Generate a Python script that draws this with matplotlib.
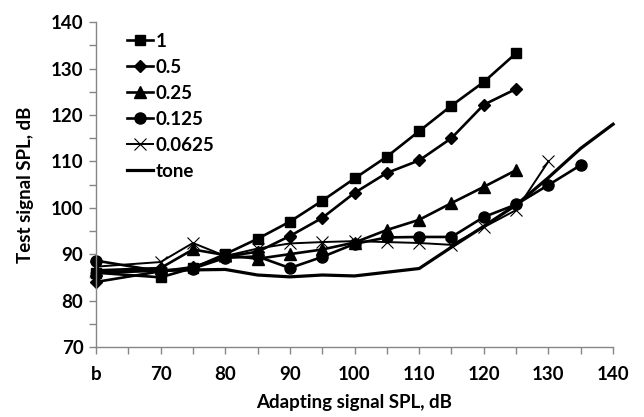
import numpy as np
from matplotlib import pyplot as plt

# adapting signal level; "b" = baseline, drawn at 60
x_all = [60, 70, 75, 80, 85, 90, 95, 100, 105, 110, 115, 120, 125, 130, 135, 140]

sq_1 = [86.0, 85.0, 87.0, 90.0, 93.3, 97.0, 101.5, 106.3, 111.0, 116.5, 122.0, 127.1, 133.3]
dia_05 = [84.0, 86.3, 87.2, 89.5, 90.5, 93.9, 97.8, 103.2, 107.5, 110.2, 115.0, 122.2, 125.6]
tri_025 = [86.5, 87.0, 91.0, 89.8, 89.0, 90.0, 91.0, 92.5, 95.2, 97.4, 101.0, 104.5, 108.1]
circ_0125 = [88.6, 86.3, 86.9, 89.2, 89.5, 87.0, 89.4, 92.2, 93.6, 93.7, 93.7, 98.0, 100.7, 104.9, 109.2]
x_00625 = [87.3, 88.3, 92.4, 89.6, 91.2, 92.3, 92.6, 92.8, 92.6, 92.4, 92.0, 95.8, 99.5, 110.0]
tone = [86.0, 86.5, 86.6, 86.7, 85.5, 85.1, 85.5, 85.3, 86.1, 86.9, 91.5, 96.0, 100.6, 106.5, 112.8, 118.0]

labels = ['1', '0.5', '0.25', '0.125', '0.0625', 'tone']

plt.rcParams['font.family'] = ['Lato', 'DejaVu Sans']
plt.rcParams['font.weight'] = 'bold'

fig = plt.figure(figsize=(6.44, 4.17), dpi=100)
ax = fig.add_axes([0.149, 0.168, 0.803, 0.779])

lw = 1.9
ax.plot(x_all[:len(sq_1)], sq_1, color='black', lw=lw, marker='s', ms=7, label=labels[0], clip_on=False)
ax.plot(x_all[:len(dia_05)], dia_05, color='black', lw=lw, marker='D', ms=6.5, label=labels[1], clip_on=False)
ax.plot(x_all[:len(tri_025)], tri_025, color='black', lw=lw, marker='^', ms=8, label=labels[2], clip_on=False)
ax.plot(x_all[:len(circ_0125)], circ_0125, color='black', lw=lw, marker='o', ms=8, label=labels[3], clip_on=False)
ax.plot(x_all[:len(x_00625)], x_00625, color='black', lw=1.4, marker='x', ms=8, mew=0.8, label=labels[4], clip_on=False)
ax.plot(x_all[:len(tone)], tone, color='black', lw=2.3, label=labels[5], clip_on=False)

ax.set_xlim(60, 140)
ax.set_ylim(70, 140)
ax.set_xticks(np.arange(60, 141, 5), minor=True)
ax.set_xticks(np.arange(60, 141, 10))
ax.set_xticklabels(['b'] + [str(v) for v in range(70, 141, 10)])
ax.set_yticks(np.arange(70, 141, 5), minor=True)
ax.set_yticks(np.arange(70, 141, 10))

for side in ['top', 'right']:
    ax.spines[side].set_visible(False)
for side in ['left', 'bottom']:
    ax.spines[side].set_color('#868686')
    ax.spines[side].set_linewidth(1.0)
ax.tick_params(which='both', direction='out', color='#868686', width=1.0, length=5)
ax.tick_params(which='major', labelsize=13.5, pad=9)
ax.tick_params(axis='y', which='major', pad=4)

ax.set_xlabel('Adapting signal SPL, dB', fontsize=13.5, fontweight='bold', labelpad=8)
ax.set_ylabel('Test signal SPL, dB', fontsize=13.5, fontweight='bold', labelpad=12)

leg = ax.legend(loc='upper left', bbox_to_anchor=(0.045, 0.99), frameon=False,
                handlelength=1.4, handletextpad=0.15, labelspacing=0.48,
                fontsize=13.5, borderaxespad=0)

plt.savefig('out.png', dpi=100)
